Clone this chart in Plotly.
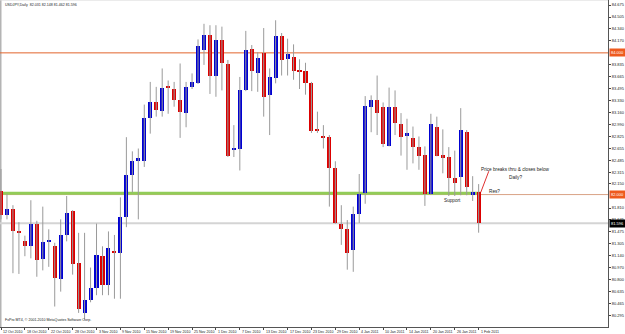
import plotly.graph_objects as go

# ---- data (USDJPY Daily, 12 Oct 2010 .. 1 Feb 2011) ----
opens = [82.05, 81.71, 81.79, 81.48, 81.35, 81.27, 81.59, 81.09, 81.33, 81.28,
         80.81, 81.43, 81.77, 81.03, 80.33, 80.51, 80.68, 81.14, 80.72, 81.21,
         81.18, 81.68, 82.28, 82.47, 82.47, 83.08, 83.30, 83.18, 83.52, 83.49,
         83.33, 83.15, 83.52, 83.58, 84.04, 84.25, 83.67, 84.18, 83.84, 82.64,
         82.65, 83.48, 84.05, 83.72, 84.00, 83.40, 83.65, 84.24, 83.91, 83.94,
         83.76, 83.74, 83.57, 82.92, 82.83, 82.81, 82.38, 81.59, 81.52, 81.22,
         81.73, 82.02, 83.24, 83.33, 83.23, 82.69, 83.24, 83.00, 82.82, 82.80,
         82.67, 82.56, 82.01, 82.95, 82.56, 82.53, 82.24, 82.25, 82.89, 82.00,
         82.031]
highs = [82.36, 82.01, 81.85, 81.61, 81.42, 81.92, 81.63, 81.83, 81.51, 81.32,
         81.65, 81.98, 81.78, 81.46, 81.46, 80.97, 81.59, 81.27, 81.48, 81.43,
         81.96, 82.81, 82.61, 82.65, 83.27, 83.59, 83.52, 83.78, 83.61, 83.59,
         83.85, 83.59, 83.71, 84.19, 84.41, 84.39, 84.39, 84.37, 83.90, 82.98,
         83.66, 84.31, 84.11, 84.01, 84.35, 83.78, 84.46, 84.28, 84.20, 84.12,
         83.91, 83.86, 83.59, 83.17, 82.98, 82.84, 82.47, 81.85, 81.64, 81.83,
         82.29, 83.39, 83.40, 83.68, 83.30, 83.51, 83.47, 83.15, 83.07, 82.96,
         82.82, 82.68, 83.14, 83.10, 82.92, 82.67, 82.62, 83.22, 82.91, 82.26,
         82.148]
lows = [81.65, 81.65, 80.89, 80.88, 81.13, 81.10, 80.84, 80.93, 80.98, 80.42,
        80.63, 81.34, 80.87, 80.33, 80.23, 80.48, 80.58, 80.58, 80.58, 80.53,
        80.53, 81.54, 82.03, 81.65, 82.39, 82.86, 83.10, 83.10, 83.14, 83.24,
        82.80, 82.95, 83.49, 83.56, 83.83, 83.42, 83.38, 83.47, 82.53, 82.53,
        82.34, 83.46, 83.46, 83.45, 83.10, 82.84, 83.57, 83.68, 83.68, 83.62,
        83.49, 83.41, 82.87, 82.87, 82.65, 81.83, 81.59, 81.29, 80.94, 80.91,
        81.60, 81.87, 82.88, 82.84, 82.67, 82.68, 82.84, 82.55, 82.35, 82.44,
        82.35, 81.84, 82.00, 82.54, 82.30, 81.98, 81.98, 81.99, 81.99, 81.91,
        81.462]
closes = [81.71, 81.79, 81.48, 81.47, 81.27, 81.58, 81.08, 81.33, 81.36, 80.82,
          81.43, 81.74, 81.02, 80.38, 80.51, 80.68, 81.15, 80.72, 81.25, 81.18,
          81.68, 82.28, 82.47, 82.52, 83.08, 83.30, 83.19, 83.51, 83.51, 83.33,
          83.16, 83.52, 83.59, 84.10, 84.25, 83.67, 84.18, 83.85, 82.54, 82.66,
          83.48, 84.04, 83.74, 83.93, 83.38, 83.66, 84.24, 83.90, 83.99, 83.75,
          83.73, 83.57, 82.90, 82.90, 82.81, 82.38, 81.60, 81.52, 81.18, 81.72,
          82.01, 83.25, 83.33, 83.15, 82.71, 83.24, 83.01, 82.81, 82.87, 82.67,
          82.55, 82.01, 82.99, 82.55, 82.52, 82.24, 82.17, 82.91, 82.10, 82.04,
          81.596]

date_labels = ["12 Oct 2010", "18 Oct 2010", "22 Oct 2010", "28 Oct 2010", "3 Nov 2010",
               "9 Nov 2010", "15 Nov 2010", "19 Nov 2010", "25 Nov 2010", "1 Dec 2010",
               "7 Dec 2010", "13 Dec 2010", "17 Dec 2010", "23 Dec 2010", "29 Dec 2010",
               "4 Jan 2011", "10 Jan 2011", "14 Jan 2011", "20 Jan 2011", "26 Jan 2011",
               "1 Feb 2011"]
date_label_bars = [0, 4, 8, 12, 16, 20, 24, 28, 32, 36, 40, 44, 48, 52, 56, 60, 64, 68, 72, 76, 80]

price_ticks = [84.675, 84.505, 84.340, 84.170, 83.835, 83.665, 83.495, 83.330, 83.160,
               82.990, 82.825, 82.655, 82.485, 82.315, 82.150, 81.810, 81.645, 81.475,
               81.305, 81.140, 80.970, 80.800, 80.635, 80.465, 80.295, 80.130]

resistance_level = 84.000
support_level = 82.000
support_band = 82.02
bid_price = 81.596
title_text = "USDJPY,Daily  82.031 82.148 81.462 81.596"
footer_text = "FxPro MT4, \u00a9 2001-2010 MetaQuotes Software Corp."

# ---- figure ----
n = len(opens)
bars = list(range(n))
FONT = "Liberation Sans, Arial, sans-serif"
UP, DOWN, WICK = "#0000D2", "#DC0000", "#9A9A9A"

fig = go.Figure()

# wicks
wx, wy = [], []
for i in bars:
    wx += [i, i, None]
    wy += [lows[i], highs[i], None]
fig.add_trace(go.Scatter(x=wx, y=wy, mode="lines", line=dict(color=WICK, width=1),
                         hoverinfo="skip", showlegend=False))

# bodies
base = [min(o, c) for o, c in zip(opens, closes)]
height = [max(abs(c - o), 0.012) for o, c in zip(opens, closes)]
colors = [UP if c >= o else DOWN for o, c in zip(opens, closes)]
fig.add_trace(go.Bar(x=bars, y=height, base=base, width=0.68,
                     marker=dict(color=colors, line=dict(width=0)),
                     showlegend=False))

shapes = []
# left window border
shapes.append(dict(type="line", xref="paper", yref="paper", x0=0, x1=0, y0=0, y1=1,
                   line=dict(color="#B4B4B4", width=3)))
shapes.append(dict(type="line", xref="paper", yref="paper", x0=0, x1=1, y0=1, y1=1,
                   line=dict(color="#D8D8D8", width=1)))
# resistance line
shapes.append(dict(type="line", xref="paper", yref="y", x0=0, x1=1,
                   y0=resistance_level, y1=resistance_level,
                   line=dict(color="#E2642C", width=1)))
# bid line
shapes.append(dict(type="line", xref="paper", yref="y", x0=0, x1=1,
                   y0=bid_price, y1=bid_price, line=dict(color="#D4D4D4", width=2)))
# "Res?" line
shapes.append(dict(type="line", xref="paper", yref="y", x0=0, x1=1,
                   y0=support_level, y1=support_level, line=dict(color="#D9A386", width=1)))
# support band
shapes.append(dict(type="line", xref="x", yref="y", x0=-1, x1=80.35,
                   y0=support_band, y1=support_band, line=dict(color="#92CC58", width=3)))
# arrow line
shapes.append(dict(type="line", xref="x", yref="y", x0=80.35, x1=81.7,
                   y0=82.03, y1=82.33, line=dict(color="#E03030", width=1)))
for s in shapes:
    s["layer"] = "below"

ann = []
small = dict(family=FONT, size=3.6, color="#222222")
note = dict(family=FONT, size=4.7, color="#222222")
ann.append(dict(text=title_text, xref="paper", yref="paper", x=0, y=1, xanchor="left",
                yanchor="top", xshift=3, yshift=-1, showarrow=False, font=small))
ann.append(dict(text=footer_text, xref="paper", yref="paper", x=0, y=0, xanchor="left",
                yanchor="middle", xshift=3, yshift=7, showarrow=False, font=small))
for b, lab in zip(date_label_bars, date_labels):
    ann.append(dict(text=lab, xref="x", yref="paper", x=b, y=0, xanchor="left",
                    yanchor="top", xshift=0, yshift=-1, showarrow=False, font=small))
ann.append(dict(text="Price breaks thru & closes below", xref="x", yref="y", x=80.0, y=82.347,
                xanchor="left", yanchor="middle", showarrow=False, font=note))
ann.append(dict(text="Daily?", xref="x", yref="y", x=86.2, y=82.244,
                xanchor="center", yanchor="middle", showarrow=False, font=note))
ann.append(dict(text="Support", xref="x", yref="y", x=75.7, y=81.923,
                xanchor="center", yanchor="middle", showarrow=False, font=note))
ann.append(dict(text="Res?", xref="x", yref="y", x=82.6, y=82.05,
                xanchor="center", yanchor="middle", showarrow=False, font=note))
# axis price boxes
for val, bg in [(resistance_level, "#EE5A1E"), (support_level, "#EE5A1E"), (bid_price, "#000000")]:
    ann.append(dict(text=f"{val:.3f}", xref="paper", yref="y", x=1, y=val, xanchor="left",
                    yanchor="middle", xshift=1, showarrow=False, bgcolor=bg, borderpad=1,
                    font=dict(family=FONT, size=4.0, color="#FFFFFF")))

fig.update_layout(
    width=625, height=334,
    margin=dict(l=0, r=14, t=0, b=7),
    paper_bgcolor="white", plot_bgcolor="white",
    shapes=shapes, annotations=ann, bargap=0,
    xaxis=dict(range=[-1 / 6, -1 / 6 + 611 / 6], showgrid=False, zeroline=False,
               tickvals=date_label_bars, ticks="outside", ticklen=2, tickcolor="#444444",
               showticklabels=False, showline=True, linecolor="#555555", linewidth=1),
    yaxis=dict(range=[80.131, 84.746], side="right", showgrid=False, zeroline=False,
               tickvals=price_ticks, ticktext=[f"{v:.3f}" for v in price_ticks],
               ticks="outside", ticklen=2, tickcolor="#444444",
               tickfont=dict(family=FONT, size=4.0, color="#222222"),
               showline=True, linecolor="#555555", linewidth=1),
)

fig.write_html("out.html")
